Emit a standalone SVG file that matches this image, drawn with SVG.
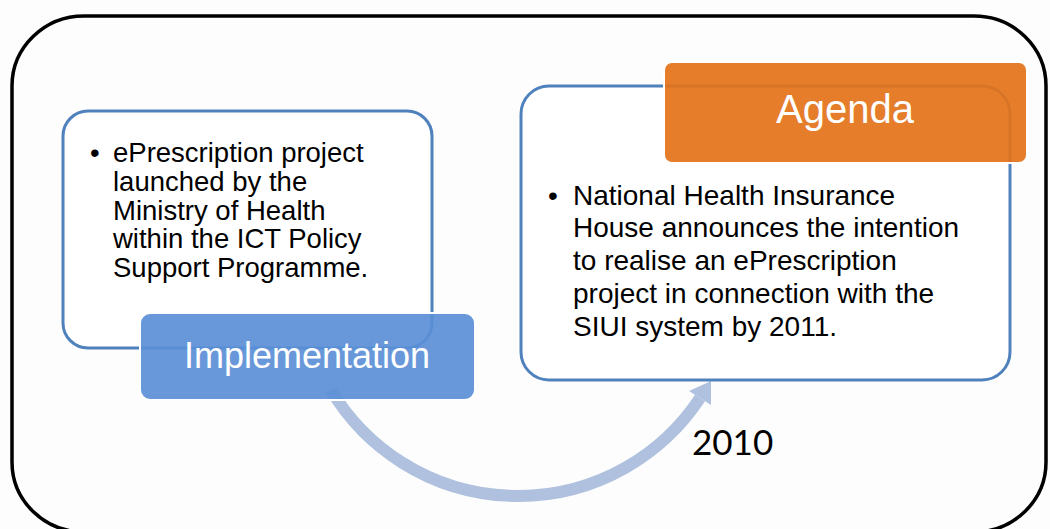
<svg xmlns="http://www.w3.org/2000/svg" width="1050" height="529" viewBox="0 0 1050 529">
<style>
.body{font-family:"Liberation Sans",Arial,sans-serif;fill:#000;}
.lbl{font-family:"Liberation Sans",Arial,sans-serif;fill:#fff;text-anchor:middle;}
.box{fill:#fff;stroke:#4f81bd;stroke-width:3;}
</style>
<defs>
</defs>
<rect width="1050" height="529" fill="#fdfdfd"/>
<rect id="frame" x="12" y="16" width="1034" height="516" rx="72" ry="70" fill="none" stroke="#000" stroke-width="3.5"/>
<g id="connectors">
  <path d="M 331 390 A 218 218 0 0 0 700 398" fill="none" stroke="#afc1de" stroke-width="12"/>
  <polygon points="711,381 689,391 711,405" fill="#afc1de"/>
</g>
<g id="node-left">
  <rect class="box" x="63" y="111" width="369" height="237" rx="25"/>
  <text class="body" font-size="27.5" x="90" y="162">•</text>
  <text class="body" font-size="27.5">
    <tspan x="113" y="162">ePrescription project</tspan>
    <tspan x="113" y="190.7">launched by the</tspan>
    <tspan x="113" y="219.5">Ministry of Health</tspan>
    <tspan x="113" y="248.2">within the ICT Policy</tspan>
    <tspan x="113" y="277">Support Programme.</tspan>
  </text>
</g>
<g id="node-implementation">
  <rect x="140" y="313" width="335" height="87" rx="10" fill="#5b8fd6" fill-opacity="0.92" stroke="#fff" stroke-width="2"/>
  <text class="lbl" font-size="36" x="307" y="368">Implementation</text>
</g>
<g id="node-right">
  <rect class="box" x="521" y="86" width="489" height="294" rx="28"/>
  <text class="body" font-size="28" x="548" y="204.5">•</text>
  <text class="body" font-size="28">
    <tspan x="573" y="204.5">National Health Insurance</tspan>
    <tspan x="573" y="237.4">House announces the intention</tspan>
    <tspan x="573" y="270.3">to realise an ePrescription</tspan>
    <tspan x="573" y="303.2">project in connection with the</tspan>
    <tspan x="573" y="336">SIUI system by 2011.</tspan>
  </text>
</g>
<g id="node-agenda">
  <rect x="664" y="62" width="363" height="101" rx="8" fill="#e3731b" fill-opacity="0.93" stroke="#fff" stroke-width="2"/>
  <text class="lbl" font-size="40" x="845" y="123">Agenda</text>
</g>
<g id="label-2010">
  <text font-family="Lato, 'Open Sans', sans-serif" font-size="35" x="692" y="455" fill="#000">2010</text>
</g>
</svg>
